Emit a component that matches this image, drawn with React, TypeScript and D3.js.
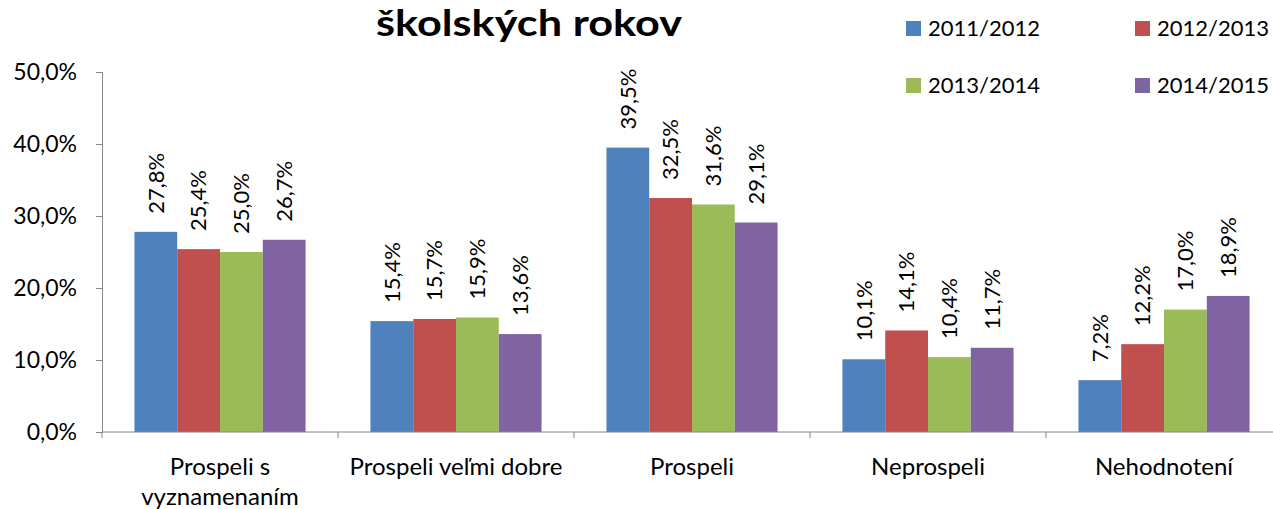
import React, { useEffect, useRef } from "react";
import * as d3 from "d3";

const categories = ["Prospeli s vyznamenaním", "Prospeli veľmi dobre", "Prospeli", "Neprospeli", "Nehodnotení"];
const categoryLines = [["Prospeli s", "vyznamenaním"], ["Prospeli veľmi dobre"], ["Prospeli"], ["Neprospeli"], ["Nehodnotení"]];
const seriesNames = ["2011/2012", "2012/2013", "2013/2014", "2014/2015"];
const colors = ["#4F81BD", "#C0504D", "#9BBB59", "#8064A2"];

const v2011 = [27.8, 15.4, 39.5, 10.1, 7.2];
const v2012 = [25.4, 15.7, 32.5, 14.1, 12.2];
const v2013 = [25.0, 15.9, 31.6, 10.4, 17.0];
const v2014 = [26.7, 13.6, 29.1, 11.7, 18.9];
const yTicks = [0, 10, 20, 30, 40, 50];

const title = "školských rokov";
const font = "Lato, 'Open Sans', sans-serif";

export default function App() {
    const ref = useRef<SVGSVGElement>(null);

    useEffect(() => {
        const width = 1273;
        const margin = { left: 102, top: 72, bottom: 432 };
        const series = [v2011, v2012, v2013, v2014];

        const svg = d3.select(ref.current);
        svg.html("");

        const x = d3.scaleBand()
            .domain(categories)
            .range([margin.left, margin.left + 5 * 236])
            .paddingInner(0.275)
            .paddingOuter(0.1375);

        const x1 = d3.scaleBand()
            .domain(seriesNames)
            .range([0, x.bandwidth()]);

        const y = d3.scaleLinear()
            .domain([0, 50])
            .range([margin.bottom, margin.top]);

        const fmt = (d: number) => d.toFixed(1).replace(".", ",") + "%";

        // y axis
        const yAxis = svg.append("g")
            .attr("transform", `translate(${margin.left},0)`)
            .call(d3.axisLeft(y).tickValues(yTicks).tickSize(6).tickSizeOuter(6).tickPadding(19).tickFormat((d) => fmt(+d)));
        yAxis.selectAll("line, path").attr("stroke", "#868686");
        yAxis.selectAll("text")
            .style("font-family", font)
            .style("font-size", "23px")
            .attr("fill", "#000");

        // bars
        const groups = svg.append("g")
            .selectAll("g")
            .data(categories)
            .enter().append("g")
            .attr("transform", (d) => `translate(${x(d)},0)`);

        groups.selectAll("rect")
            .data((d, i) => series.map((s, j) => ({ name: seriesNames[j], value: s[i], color: colors[j] })))
            .enter().append("rect")
            .attr("x", (d) => x1(d.name)!)
            .attr("y", (d) => y(d.value))
            .attr("width", x1.bandwidth())
            .attr("height", (d) => y(0) - y(d.value))
            .attr("fill", (d) => d.color);

        groups.selectAll("text")
            .data((d, i) => series.map((s, j) => ({ name: seriesNames[j], value: s[i] })))
            .enter().append("text")
            .attr("transform", (d) => `translate(${x1(d.name)! + x1.bandwidth() / 2},${y(d.value) - 18}) rotate(-90)`)
            .attr("dy", "0.35em")
            .style("font-family", font)
            .style("font-size", "22px")
            .text((d) => fmt(d.value));

        // x axis
        const xAxis = svg.append("g");
        xAxis.append("line")
            .attr("x1", margin.left).attr("x2", width)
            .attr("y1", y(0)).attr("y2", y(0))
            .attr("stroke", "#868686");
        xAxis.selectAll("line.tick")
            .data(d3.range(categories.length + 1))
            .enter().append("line")
            .attr("class", "tick")
            .attr("x1", (i) => margin.left + i * x.step())
            .attr("x2", (i) => margin.left + i * x.step())
            .attr("y1", y(0)).attr("y2", y(0) + 6)
            .attr("stroke", "#868686");
        xAxis.selectAll("text")
            .data(categories)
            .enter().append("text")
            .attr("x", (d) => x(d)! + x.bandwidth() / 2)
            .attr("y", 475)
            .attr("text-anchor", "middle")
            .style("font-family", font)
            .style("font-size", "24px")
            .each(function (d, i) {
                categoryLines[i].forEach((line, k) => {
                    d3.select(this).append("tspan")
                        .attr("x", x(d)! + x.bandwidth() / 2)
                        .attr("dy", k === 0 ? 0 : 30)
                        .text(line);
                });
            });

        // title (top lines fall outside the frame, as in the source)
        svg.append("text")
            .attr("x", 529)
            .attr("y", 36)
            .attr("text-anchor", "middle")
            .attr("textLength", 306)
            .attr("lengthAdjust", "spacingAndGlyphs")
            .style("font-family", font)
            .style("font-size", "36px")
            .style("font-weight", "bold")
            .text(title);

        // legend
        const legend = svg.append("g")
            .selectAll("g")
            .data(seriesNames)
            .enter().append("g")
            .attr("transform", (d, i) => `translate(${906 + (i % 2) * 229},${21 + Math.floor(i / 2) * 57})`);
        legend.append("rect")
            .attr("width", 15).attr("height", 15)
            .attr("fill", (d, i) => colors[i]);
        legend.append("text")
            .attr("x", 22).attr("y", 7.5)
            .attr("dy", "0.35em")
            .style("font-family", font)
            .style("font-size", "22px")
            .text((d) => d);
    }, []);

    return (
        <svg ref={ref} width="1273" height="509"
            style={{ position: "absolute", left: 0, top: 0, background: "#fff" }}></svg>
    );
}
